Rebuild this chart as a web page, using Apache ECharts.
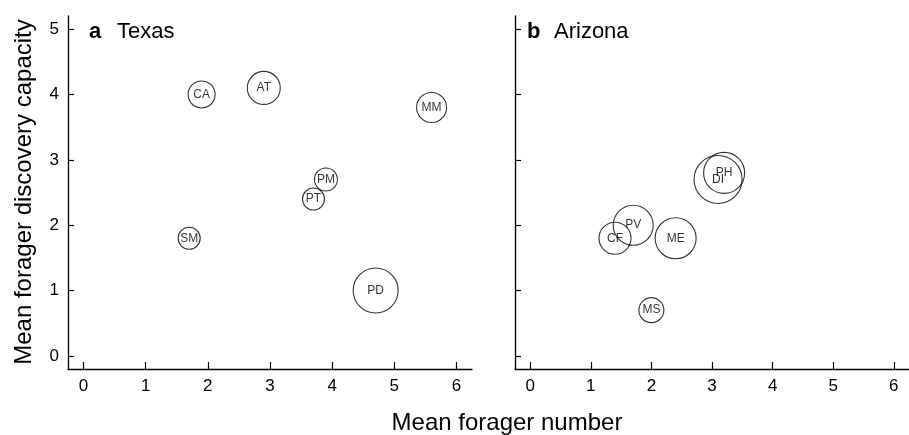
<!DOCTYPE html>
<html>
<head>
<meta charset="utf-8">
<script src="https://cdn.jsdelivr.net/npm/echarts@6/dist/echarts.min.js"></script>
<style>html,body{margin:0;padding:0;background:#fff}#c{width:909px;height:435px}</style>
</head>
<body>
<div id="c"></div>
<script>
// Texas panel
const texasSites = ['CA', 'AT', 'MM', 'PM', 'PT', 'SM', 'PD'];
const texasX = [1.9, 2.9, 5.6, 3.9, 3.7, 1.7, 4.7];
const texasY = [4.0, 4.1, 3.8, 2.7, 2.4, 1.8, 1.0];
const texasSize = [27, 33, 30, 23, 22, 22, 45];
// Arizona panel
const arizonaSites = ['DI', 'PH', 'PV', 'CF', 'ME', 'MS'];
const arizonaX = [3.1, 3.2, 1.7, 1.4, 2.4, 2.0];
const arizonaY = [2.7, 2.8, 2.0, 1.8, 1.8, 0.7];
const arizonaSize = [48, 41, 40, 32, 41, 25];
// ticks
const xTicks = [0, 1, 2, 3, 4, 5, 6];
const yTicks = [0, 1, 2, 3, 4, 5];

const FONT = '"Liberation Sans", Arial, sans-serif';

function pts(names, xs, ys, ss) {
  return names.map((n, i) => ({ name: n, value: [xs[i], ys[i]], symbolSize: ss[i] }));
}

function xAxis(gi) {
  return {
    gridIndex: gi, type: 'value', min: -0.25, max: 6.25,
    splitLine: { show: false },
    axisLine: { show: true, onZero: false, lineStyle: { color: '#000', width: 1.3 } },
    axisTick: { show: true, inside: true, length: 7, customValues: xTicks, lineStyle: { color: '#000', width: 1.2 } },
    axisLabel: { show: true, customValues: xTicks, color: '#000', fontSize: 17, fontFamily: FONT, margin: 9 }
  };
}
function yAxis(gi, showLabels) {
  return {
    gridIndex: gi, type: 'value', min: -0.2, max: 5.2,
    splitLine: { show: false },
    axisLine: { show: true, onZero: false, lineStyle: { color: '#000', width: 1.3 } },
    axisTick: { show: true, inside: true, length: 6, customValues: yTicks, lineStyle: { color: '#000', width: 1.2 } },
    axisLabel: { show: showLabels, customValues: yTicks, color: '#000', fontSize: 17, fontFamily: FONT, margin: 9 }
  };
}
function series(gi, data) {
  return {
    type: 'scatter', xAxisIndex: gi, yAxisIndex: gi, data: data,
    symbol: 'circle',
    itemStyle: { color: 'rgba(0,0,0,0)', borderColor: '#000', borderWidth: 1.1 },
    label: { show: true, position: 'inside', formatter: '{b}', color: '#000', fontSize: 12, fontFamily: FONT },
    emphasis: { disabled: true },
    animation: false
  };
}

const chart = echarts.init(document.getElementById('c'));
chart.setOption({
  animation: false,
  backgroundColor: '#fff',
  grid: [
    { left: 68, top: 16, width: 404, height: 353 },
    { left: 515, top: 16, width: 404, height: 353 }
  ],
  xAxis: [xAxis(0), xAxis(1)],
  yAxis: [yAxis(0, true), yAxis(1, false)],
  series: [
    series(0, pts(texasSites, texasX, texasY, texasSize)),
    series(1, pts(arizonaSites, arizonaX, arizonaY, arizonaSize))
  ],
  graphic: [
    { type: 'text', left: 89, top: 21, style: { text: 'a', font: 'bold 22px ' + FONT, fill: '#000' } },
    { type: 'text', left: 117, top: 21, style: { text: 'Texas', font: '22px ' + FONT, fill: '#000' } },
    { type: 'text', left: 527, top: 21, style: { text: 'b', font: 'bold 22px ' + FONT, fill: '#000' } },
    { type: 'text', left: 554, top: 21, style: { text: 'Arizona', font: '22px ' + FONT, fill: '#000' } },
    { type: 'text', x: 507, y: 423, style: { text: 'Mean forager number', font: '24px ' + FONT, fill: '#000', align: 'center', verticalAlign: 'middle' } },
    { type: 'text', x: 24, y: 192, rotation: Math.PI / 2, style: { text: 'Mean forager discovery capacity', font: '24px ' + FONT, fill: '#000', align: 'center', verticalAlign: 'middle' } }
  ]
});
</script>
</body>
</html>
